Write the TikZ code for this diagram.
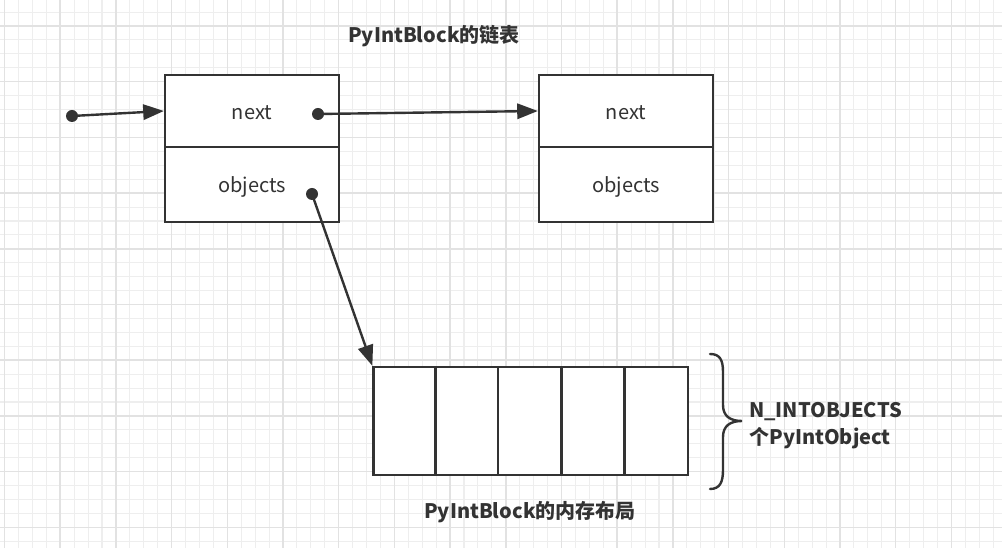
\documentclass[tikz,border=0pt]{standalone}
\usepackage{fontspec}
\setmainfont{Noto Sans CJK SC}
\usetikzlibrary{arrows.meta}
\definecolor{ink}{HTML}{333333}
\definecolor{gminor}{HTML}{EEEEEE}
\definecolor{gmajor}{HTML}{E2E2E2}
\tikzset{
  minorline/.style={gminor, line width=0.8pt},
  majorline/.style={gmajor, line width=1.1pt},
  cell/.style={draw=ink, fill=white, line width=1.7pt, rectangle, inner sep=0pt, text=ink,
    font=\fontsize{15}{18}\selectfont, text height=15pt, text depth=2.5pt},
  dot/.style={circle, fill=ink, inner sep=0pt, minimum size=9pt},
  arr/.style={draw=ink, line width=1.8pt, -{Triangle[length=15.5pt,width=11.5pt]}},
  lbl/.style={text=ink, font=\bfseries\fontsize{15}{20.25}\selectfont, inner sep=0pt},
}
\begin{document}
\begin{tikzpicture}[x=0.75pt,y=-0.75pt]
\useasboundingbox (0,0) rectangle (1002,548);
\fill[white] (0,0) rectangle (1002,548);
% grid
\foreach \i in {0,...,71} \draw[minorline] ({4.5+13.925*\i},0) -- ({4.5+13.925*\i},548);
\foreach \j in {-1,...,38} \draw[minorline] (0,{12.1+13.925*\j}) -- (1002,{12.1+13.925*\j});
\foreach \i in {0,...,17} \draw[majorline] ({4.5+55.7*\i},0) -- ({4.5+55.7*\i},548);
\foreach \j in {0,...,9} \draw[majorline] (0,{26+55.7*\j}) -- (1002,{26+55.7*\j});
% title
\node[lbl] (t1) at (434,36) {PyIntBlock的链表};
% block 1
\node[cell, minimum width=174*0.75pt, minimum height=72*0.75pt] (b1n) at (252,111) {next};
\node[cell, minimum width=174*0.75pt, minimum height=75*0.75pt] (b1o) at (252,184.5) {objects};
% block 2
\node[cell, minimum width=174*0.75pt, minimum height=72*0.75pt] (b2n) at (626,111) {next};
\node[cell, minimum width=174*0.75pt, minimum height=75*0.75pt] (b2o) at (626,184.5) {objects};
% array
\foreach \k/\x in {1/405, 2/467, 3/529.5, 4/593, 5/656.5}
  \node[cell, minimum width=63*0.75pt, minimum height=108*0.75pt] (c\k) at (\x,421) {};
% dots
\node[dot] (d0) at (72,116) {};
\node[dot] (d1) at (318,114) {};
\node[dot] (d2) at (312,194) {};
% arrows
\draw[arr] (d0.center) -- (b1n.west);
\draw[arr] (d1.center) -- (b2n.west);
\draw[arr] (d2.center) -- (c1.north west);
% brace
\draw[ink, line width=1.8pt, line cap=round]
  (710,354) .. controls (720,354) and (723,360) .. (723,372) -- (723,405)
  .. controls (723,416) and (730,421) .. (742,421)
  .. controls (730,421) and (723,426) .. (723,437) -- (723,470)
  .. controls (723,482) and (720,489) .. (710,489);
\node[lbl, anchor=base west, align=left] (t2) at (749,444) {N\_INTOBJECTS\\个PyIntObject};
\node[lbl] (t3) at (530,512) {PyIntBlock的内存布局};
\end{tikzpicture}
\end{document}
